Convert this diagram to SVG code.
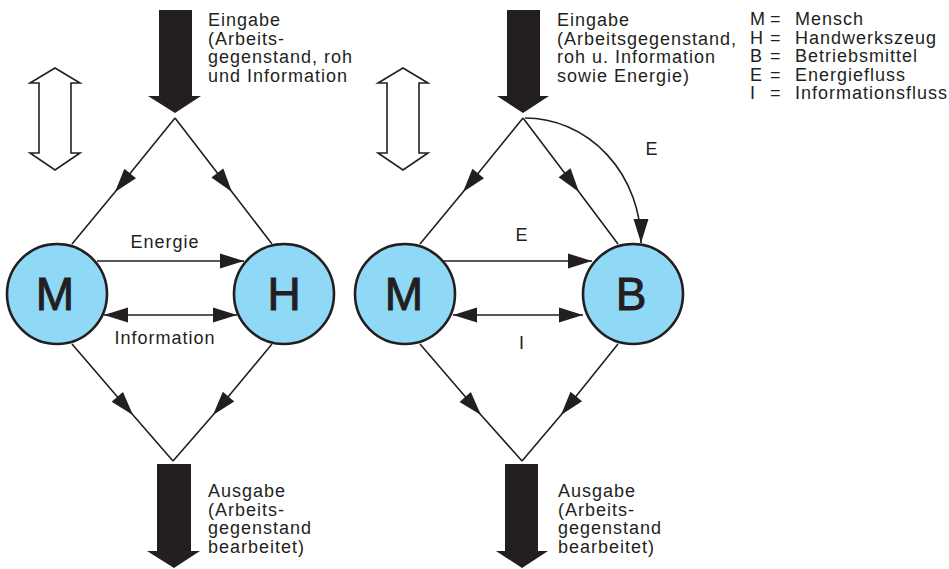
<svg xmlns="http://www.w3.org/2000/svg" width="949" height="569" viewBox="0 0 949 569">
<style>
text{font-family:"Liberation Sans",Arial,sans-serif;font-size:18px;fill:#231f20;letter-spacing:1px}
.lbl{text-anchor:middle}
.big{font-size:46px;text-anchor:middle;letter-spacing:0;stroke:#231f20;stroke-width:1}
.ln{fill:none;stroke:#231f20;stroke-width:1.6}
.node circle{fill:#8fd8f6;stroke:#231f20;stroke-width:2.6}
.blk{fill:#231f20}
.dbl{fill:#fff;stroke:#231f20;stroke-width:1.6}
</style>
<defs>
<marker id="ah" markerUnits="userSpaceOnUse" viewBox="-25 -8 26 16" markerWidth="26" markerHeight="16" refX="0" refY="0" orient="auto">
<path d="M0,0 L-24,-7.5 L-24,7.5 z" fill="#231f20"/>
</marker>
<marker id="ahs" markerUnits="userSpaceOnUse" viewBox="-25 -8 26 16" markerWidth="26" markerHeight="16" refX="0" refY="0" orient="auto-start-reverse">
<path d="M0,0 L-24,-7.5 L-24,7.5 z" fill="#231f20"/>
</marker>
</defs>

<g id="left-io">
<polygon class="blk" points="159,10 192,10 192,96 201,96 175,113 148,96 159,96"/>
<polygon class="blk" points="157,464 191,464 191,551 200,551 174,568 147,551 157,551"/>
<polygon class="dbl" points="55,68 80,83 71,83 71,153 80,153 55,170 30,153 39,153 39,83 30,83"/>
<text x="208" y="26">Eingabe</text>
<text x="208" y="44.5">(Arbeits-</text>
<text x="208" y="63">gegenstand, roh</text>
<text x="208" y="81.5">und Information</text>
<text x="208" y="497">Ausgabe</text>
<text x="208" y="515.5">(Arbeits-</text>
<text x="208" y="534">gegenstand</text>
<text x="208" y="552.5">bearbeitet)</text>
</g>

<g id="right-io">
<polygon class="blk" points="507,10 540,10 540,96 549,96 523,113 497,96 507,96"/>
<polygon class="blk" points="505,464 538,464 538,551 548,551 522,568 496,551 505,551"/>
<polygon class="dbl" points="403,68 428,83 419,83 419,153 428,153 403,170 378,153 387,153 387,83 378,83"/>
<text x="557" y="26">Eingabe</text>
<text x="557" y="44.5">(Arbeitsgegenstand,</text>
<text x="557" y="63">roh u. Information</text>
<text x="557" y="81.5">sowie Energie)</text>
<text x="558" y="497">Ausgabe</text>
<text x="558" y="515.5">(Arbeits-</text>
<text x="558" y="534">gegenstand</text>
<text x="558" y="552.5">bearbeitet)</text>
</g>

<g id="legend">
<text x="750" y="25">M</text><text x="770" y="25">=</text><text x="795" y="25">Mensch</text>
<text x="750" y="43.5">H</text><text x="770" y="43.5">=</text><text x="795" y="43.5">Handwerkszeug</text>
<text x="750" y="62">B</text><text x="770" y="62">=</text><text x="795" y="62">Betriebsmittel</text>
<text x="750" y="80.5">E</text><text x="770" y="80.5">=</text><text x="795" y="80.5">Energiefluss</text>
<text x="750" y="99">I</text><text x="770" y="99">=</text><text x="795" y="99">Informationsfluss</text>
</g>

<g id="connectors">
<path class="ln" d="M175,118 L115,192 L72,244" marker-mid="url(#ah)"/>
<path class="ln" d="M175,118 L232,192 L272,244" marker-mid="url(#ah)"/>
<path class="ln" d="M72,344 L133,415 L173,461" marker-mid="url(#ah)"/>
<path class="ln" d="M272,344 L213,415 L173,461" marker-mid="url(#ah)"/>
<path class="ln" d="M97,261 L244,261" marker-end="url(#ah)"/>
<path class="ln" d="M104,315 L237,315" marker-start="url(#ahs)" marker-end="url(#ah)"/>
<text class="lbl" x="165" y="248">Energie</text>
<text class="lbl" x="165" y="344">Information</text>

<path class="ln" d="M523,118 L463,192 L420,244" marker-mid="url(#ah)"/>
<path class="ln" d="M523,118 L579,192 L618,244" marker-mid="url(#ah)"/>
<path class="ln" d="M420,344 L481,415 L522,461" marker-mid="url(#ah)"/>
<path class="ln" d="M618,344 L561,415 L522,461" marker-mid="url(#ah)"/>
<path class="ln" d="M443,261 L592,261" marker-end="url(#ah)"/>
<path class="ln" d="M453,315 L583,315" marker-start="url(#ahs)" marker-end="url(#ah)"/>
<path class="ln" d="M525,118 A116,125 0 0 1 641,243" marker-end="url(#ah)"/>
<text class="lbl" x="522" y="241">E</text>
<text class="lbl" x="522" y="349">I</text>
<text class="lbl" x="652" y="155">E</text>
</g>

<g id="node-M1" class="node"><circle cx="57" cy="294" r="50"/><text class="big" x="55" y="310">M</text></g>
<g id="node-H" class="node"><circle cx="284" cy="294" r="50"/><text class="big" x="284" y="310">H</text></g>
<g id="node-M2" class="node"><circle cx="405" cy="294" r="50"/><text class="big" x="404" y="310">M</text></g>
<g id="node-B" class="node"><circle cx="633" cy="294" r="50"/><text class="big" x="631" y="310">B</text></g>
</svg>
